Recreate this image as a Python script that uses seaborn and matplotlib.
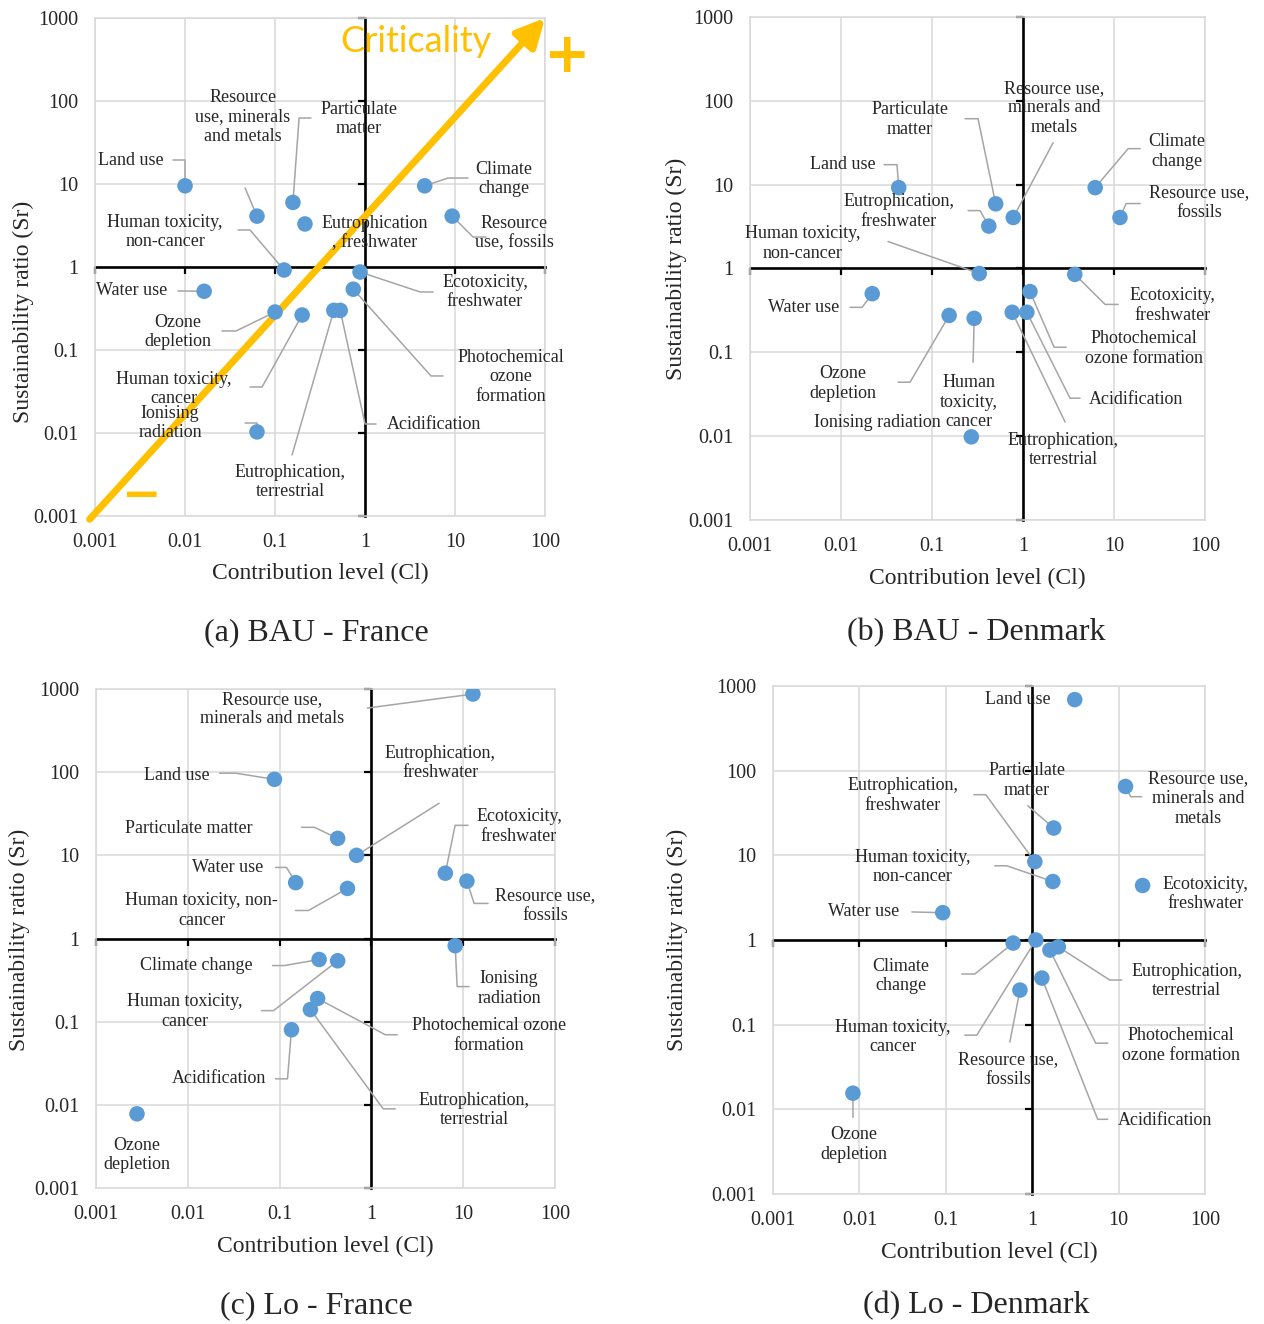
import numpy as np
import pandas as pd
import seaborn as sns
import matplotlib.pyplot as plt
from matplotlib.ticker import FuncFormatter, LogLocator, NullLocator

# impact categories (same order in every panel)
impacts = ['Climate change', 'Ozone depletion', 'Ionising radiation',
           'Photochemical ozone formation', 'Particulate matter',
           'Human toxicity, non-cancer', 'Human toxicity, cancer', 'Acidification',
           'Eutrophication, freshwater', 'Eutrophication, terrestrial',
           'Ecotoxicity, freshwater', 'Land use', 'Water use',
           'Resource use, fossils', 'Resource use, minerals and metals']

# contribution level (Cl) and sustainability ratio (Sr)
cl_bau_fr = [4.6, 0.1, 0.063, 0.74, 0.158, 0.126, 0.2, 0.53, 0.215, 0.45, 0.88, 0.01, 0.0163, 9.3, 0.063]
sr_bau_fr = [9.5, 0.287, 0.0103, 0.54, 6.0, 0.92, 0.264, 0.30, 3.3, 0.30, 0.87, 9.5, 0.51, 4.1, 4.1]

cl_bau_dk = [6.2, 0.154, 0.27, 1.19, 0.50, 0.33, 0.29, 1.1, 0.42, 0.76, 3.7, 0.043, 0.022, 11.6, 0.78]
sr_bau_dk = [9.2, 0.275, 0.0098, 0.53, 5.9, 0.87, 0.254, 0.30, 3.2, 0.30, 0.85, 9.2, 0.50, 4.05, 4.05]

cl_lo_fr = [0.27, 0.0028, 8.2, 0.26, 0.43, 0.55, 0.43, 0.135, 0.69, 0.217, 6.4, 0.088, 0.15, 11.0, 12.8]
sr_lo_fr = [0.56, 0.0078, 0.82, 0.19, 16.0, 4.0, 0.54, 0.080, 10.0, 0.14, 6.1, 82.0, 4.7, 4.9, 870.0]

# ionising radiation is not shown in the Lo - Denmark panel
cl_lo_dk = [0.6, 0.0084, np.nan, 1.6, 1.77, 1.73, 1.1, 1.29, 1.07, 2.0, 18.9, 3.1, 0.092, 0.72, 12.0]
sr_lo_dk = [0.92, 0.0155, np.nan, 0.76, 21.0, 4.9, 1.0, 0.355, 8.4, 0.83, 4.4, 690.0, 2.1, 0.256, 65.0]

# label layout in log10 units: (text, text centre, leader bend points -> the line ends on the dot)
lab_bau_fr = {
    'Climate change': ('Climate\nchange', (1.544, 1.06), [(1.144, 1.072), (0.922, 1.072)]),
    'Ozone depletion': ('Ozone\ndepletion', (-2.078, -0.783), [(-1.589, -0.771), (-1.433, -0.771)]),
    'Ionising radiation': ('Ionising\nradiation', (-2.167, -1.88), [(-1.333, -1.88), (-1.2, -1.88)]),
    'Photochemical ozone formation': ('Photochemical\nozone\nformation', (1.622, -1.325), [(0.867, -1.313), (0.733, -1.313)]),
    'Particulate matter': ('Particulate\nmatter', (-0.067, 1.783), [(-0.6, 1.795), (-0.733, 1.795)]),
    'Human toxicity, non-cancer': ('Human toxicity,\nnon-cancer', (-2.222, 0.422), [(-1.411, 0.446), (-1.278, 0.446)]),
    'Human toxicity, cancer': ('Human toxicity,\ncancer', (-2.122, -1.47), [(-1.278, -1.446), (-1.144, -1.446)]),
    'Acidification': ('Acidification', (0.767, -1.892), [(0.122, -1.892), (0.0, -1.892)]),
    'Eutrophication, freshwater': ('Eutrophication\n, freshwater', (0.111, 0.41), []),
    'Eutrophication, terrestrial': ('Eutrophication,\nterrestrial', (-0.833, -2.59), [(-0.811, -2.265)]),
    'Ecotoxicity, freshwater': ('Ecotoxicity,\nfreshwater', (1.333, -0.301), [(0.756, -0.301), (0.611, -0.301)]),
    'Land use': ('Land use', (-2.6, 1.289), [(-2.133, 1.289), (-2.0, 1.289)]),
    'Water use': ('Water use', (-2.589, -0.289), [(-2.078, -0.289)]),
    'Resource use, fossils': ('Resource\nuse, fossils', (1.656, 0.41), [(1.344, 0.361), (1.2, 0.361)]),
    'Resource use, minerals and metals': ('Resource\nuse, minerals\nand metals', (-1.356, 1.807), [(-1.333, 0.952)]),
}

lab_bau_dk = {
    'Climate change': ('Climate\nchange', (1.692, 1.393), [(1.286, 1.429), (1.154, 1.429)]),
    'Ozone depletion': ('Ozone\ndepletion', (-1.978, -1.369), [(-1.374, -1.357), (-1.242, -1.357)]),
    'Ionising radiation': ('Ionising radiation', (-1.604, -1.833), []),
    'Photochemical ozone formation': ('Photochemical\nozone formation', (1.33, -0.952), [(0.473, -0.94), (0.341, -0.94)]),
    'Particulate matter': ('Particulate\nmatter', (-1.242, 1.774), [(-0.637, 1.786), (-0.495, 1.786)]),
    'Human toxicity, non-cancer': ('Human toxicity,\nnon-cancer', (-2.418, 0.298), [(-1.484, 0.321)]),
    'Human toxicity, cancer': ('Human\ntoxicity,\ncancer', (-0.593, -1.595), [(-0.549, -1.119)]),
    'Acidification': ('Acidification', (1.242, -1.56), [(0.626, -1.548), (0.516, -1.548)]),
    'Eutrophication, freshwater': ('Eutrophication,\nfreshwater', (-1.363, 0.679), [(-0.604, 0.69), (-0.473, 0.69)]),
    'Eutrophication, terrestrial': ('Eutrophication,\nterrestrial', (0.44, -2.167), [(0.462, -1.833)]),
    'Ecotoxicity, freshwater': ('Ecotoxicity,\nfreshwater', (1.637, -0.44), [(1.044, -0.429), (0.901, -0.429)]),
    'Land use': ('Land use', (-1.978, 1.238), [(-1.527, 1.238), (-1.385, 1.238)]),
    'Water use': ('Water use', (-2.407, -0.464), [(-1.901, -0.464), (-1.769, -0.464)]),
    'Resource use, fossils': ('Resource use,\nfossils', (1.934, 0.786), [(1.286, 0.774), (1.132, 0.774)]),
    'Resource use, minerals and metals': ('Resource use,\nminerals and\nmetals', (0.341, 1.917), [(0.33, 1.5)]),
}

lab_lo_fr = {
    'Climate change': ('Climate change', (-1.902, -0.325), [(-1.076, -0.325), (-0.946, -0.325)]),
    'Ozone depletion': ('Ozone\ndepletion', (-2.554, -2.602), []),
    'Ionising radiation': ('Ionising\nradiation', (1.5, -0.602), [(1.065, -0.578), (0.935, -0.578)]),
    'Photochemical ozone formation': ('Photochemical ozone\nformation', (1.283, -1.169), [(0.283, -1.157), (0.152, -1.157)]),
    'Particulate matter': ('Particulate matter', (-1.989, 1.325), [(-0.761, 1.337), (-0.62, 1.337)]),
    'Human toxicity, non-cancer': ('Human toxicity, non-\ncancer', (-1.848, 0.337), [(-0.826, 0.337), (-0.685, 0.337)]),
    'Human toxicity, cancer': ('Human toxicity,\ncancer', (-2.033, -0.88), [(-1.196, -0.867), (-1.065, -0.867)]),
    'Acidification': ('Acidification', (-1.663, -1.687), [(-1.043, -1.687), (-0.913, -1.687)]),
    'Eutrophication, freshwater': ('Eutrophication,\nfreshwater', (0.75, 2.108), [(0.739, 1.627)]),
    'Eutrophication, terrestrial': ('Eutrophication,\nterrestrial', (1.12, -2.06), [(0.261, -2.048), (0.13, -2.048)]),
    'Ecotoxicity, freshwater': ('Ecotoxicity,\nfreshwater', (1.609, 1.349), [(1.054, 1.361), (0.913, 1.361)]),
    'Land use': ('Land use', (-2.12, 1.964), [(-1.652, 1.988), (-1.478, 1.988)]),
    'Water use': ('Water use', (-1.565, 0.855), [(-1.043, 0.855), (-0.924, 0.855)]),
    'Resource use, fossils': ('Resource use,\nfossils', (1.891, 0.398), [(1.272, 0.422), (1.12, 0.422)]),
    'Resource use, minerals and metals': ('Resource use,\nminerals and metals', (-1.076, 2.759), [(-0.043, 2.771)]),
}

lab_lo_dk = {
    'Climate change': ('Climate\nchange', (-1.52, -0.426), [(-0.815, -0.402), (-0.665, -0.402)]),
    'Ozone depletion': ('Ozone\ndepletion', (-2.064, -2.414), [(-2.075, -2.095)]),
    'Photochemical ozone formation': ('Photochemical\nozone formation', (1.717, -1.243), [(0.873, -1.219), (0.734, -1.219)]),
    'Particulate matter': ('Particulate\nmatter', (-0.064, 1.882), [(-0.052, 1.586)]),
    'Human toxicity, non-cancer': ('Human toxicity,\nnon-cancer', (-1.382, 0.864), [(-0.434, 0.876), (-0.295, 0.876)]),
    'Human toxicity, cancer': ('Human toxicity,\ncancer', (-1.613, -1.148), [(-0.78, -1.124), (-0.642, -1.124)]),
    'Acidification': ('Acidification', (1.532, -2.13), [(0.873, -2.118), (0.757, -2.118)]),
    'Eutrophication, freshwater': ('Eutrophication,\nfreshwater', (-1.497, 1.704), [(-0.676, 1.716), (-0.538, 1.716)]),
    'Eutrophication, terrestrial': ('Eutrophication,\nterrestrial', (1.786, -0.485), [(1.035, -0.473), (0.896, -0.473)]),
    'Ecotoxicity, freshwater': ('Ecotoxicity,\nfreshwater', (2.006, 0.544), []),
    'Land use': ('Land use', (-0.168, 2.84), []),
    'Water use': ('Water use', (-1.948, 0.331), [(-1.393, 0.331)]),
    'Resource use, fossils': ('Resource use,\nfossils', (-0.283, -1.527), [(-0.26, -1.207)]),
    'Resource use, minerals and metals': ('Resource use,\nminerals and\nmetals', (1.925, 1.669), [(1.266, 1.692), (1.139, 1.692)]),
}

DOT = '#5B9BD5'
GRID = '#D9D9D9'
LEAD = '#A5A5A5'
GOLD = '#FFC000'

sns.set_style('white')
plt.rcParams['font.family'] = ['Liberation Serif', 'DejaVu Serif']

fig = plt.figure(figsize=(12.64, 13.24), dpi=100)


def draw_panel(ax, cl, sr, labels):
    df = pd.DataFrame({'impact': impacts, 'cl': cl, 'sr': sr}).dropna()
    sns.scatterplot(data=df, x='cl', y='sr', ax=ax, s=125, color=DOT,
                    edgecolor='none', zorder=4, legend=False)
    ax.set_xscale('log')
    ax.set_yscale('log')
    ax.set_xlim(1e-3, 1e2)
    ax.set_ylim(1e-3, 1e3)

    fmt = FuncFormatter(lambda v, _: f'{v:g}')
    for axis in (ax.xaxis, ax.yaxis):
        axis.set_major_locator(LogLocator(base=10, numticks=12))
        axis.set_minor_locator(NullLocator())
        axis.set_major_formatter(fmt)
    ax.grid(True, color=GRID, lw=1.1)
    ax.tick_params(length=0, labelsize=14.5, pad=12)
    for sp in ax.spines.values():
        sp.set_color(GRID)
        sp.set_linewidth(1.1)

    # black cross through Cl = 1 and Sr = 1
    sx = ax.secondary_xaxis(0.5)
    sx.set_alignment('bottom')
    sx.xaxis.set_minor_locator(NullLocator())
    sx.tick_params(axis='x', direction='out', length=5, width=1.6, color='black',
                   labelbottom=False, labeltop=False)
    sx.spines['bottom'].set(color='black', linewidth=1.9)
    sx.set_zorder(1)
    sy = ax.secondary_yaxis(0.6)
    sy.set_alignment('left')
    sy.yaxis.set_minor_locator(NullLocator())
    sy.tick_params(axis='y', direction='out', length=5, width=1.6, color='black',
                   labelleft=False, labelright=False)
    sy.spines['left'].set(color='black', linewidth=1.9)
    sy.set_zorder(1)

    pts = df.set_index('impact')
    for name, (txt, (tx, ty), bends) in labels.items():
        x0, y0 = pts.loc[name, 'cl'], pts.loc[name, 'sr']
        if bends:
            xs = [10 ** b[0] for b in bends] + [x0]
            ys = [10 ** b[1] for b in bends] + [y0]
            ax.plot(xs, ys, color=LEAD, lw=1.1, zorder=2)
        ax.text(10 ** tx, 10 ** ty, txt, ha='center', va='center', fontsize=13,
                linespacing=1.2, zorder=5)

    ax.set_xlabel('Contribution level (Cl)', fontsize=17)
    ax.set_ylabel('Sustainability ratio (Sr)', fontsize=17)


panels = [
    ([0.0752, 0.6103, 0.3560, 0.3761], cl_bau_fr, sr_bau_fr, lab_bau_fr, '(a) BAU - France', (0.25, 0.5219), -0.094, (-0.136, 0.41)),
    ([0.5934, 0.6073, 0.3600, 0.3799], cl_bau_dk, sr_bau_dk, lab_bau_dk, '(b) BAU - Denmark', (0.7722, 0.5219), -0.095, (-0.138, 0.499)),
    ([0.0759, 0.1027, 0.3631, 0.3769], cl_lo_fr, sr_lo_fr, lab_lo_fr, '(c) Lo - France', (0.25, 0.0136), -0.096, (-0.144, 0.497)),
    ([0.6116, 0.0982, 0.3418, 0.3837], cl_lo_dk, sr_lo_dk, lab_lo_dk, '(d) Lo - Denmark', (0.7722, 0.0136), -0.094, (-0.197, 0.5)),
]

axes = []
for rect, cl, sr, labels, title, tpos, xly, yl in panels:
    ax = fig.add_axes(rect)
    draw_panel(ax, cl, sr, labels)
    ax.xaxis.set_label_coords(0.5, xly)
    ax.yaxis.set_label_coords(*yl)
    fig.text(tpos[0], tpos[1], title, ha='center', va='center', fontsize=23)
    axes.append(ax)

# criticality arrow on panel (a)
ax = axes[0]
ax.annotate('', xy=(1e2, 1e3), xytext=(10 ** -3.06, 10 ** -3.04),
            arrowprops=dict(arrowstyle='-|>,head_length=1.0,head_width=0.5', color=GOLD,
                            lw=5, mutation_scale=17, shrinkA=0, shrinkB=0),
            annotation_clip=False, zorder=3)
ax.text(10 ** 0.567, 10 ** 2.711, 'Criticality', color=GOLD, fontsize=26,
        family=['Lato', 'DejaVu Sans'], ha='center', va='center', zorder=5)
ax.text(10 ** 2.233, 10 ** 2.53, '+', color=GOLD, fontsize=40, fontweight='bold',
        family='DejaVu Sans', ha='center', va='center', clip_on=False, zorder=5)
ax.text(10 ** -2.478, 10 ** -2.771, '\u2212', color=GOLD, fontsize=34, fontweight='bold',
        family='DejaVu Sans', ha='center', va='center', zorder=5)

fig.savefig('out.png', dpi=100)
